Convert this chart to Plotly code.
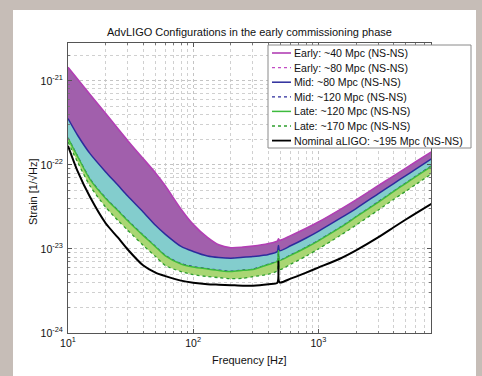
import plotly.graph_objects as go

# ---------------- data ----------------
freq = [10, 12, 15, 20, 25, 30, 40, 50, 60, 80, 100, 130, 160, 200, 250, 300, 400,
        470, 480, 490, 600, 800, 1000, 1500, 2000, 3000, 4000, 5000, 6000, 8000]

early40 = [1.45e-21, 1.04e-21, 6.89e-22, 4.08e-22, 2.70e-22, 1.94e-22, 1.18e-22, 8.02e-23,
           5.61e-23, 2.97e-23, 1.96e-23, 1.37e-23, 1.12e-23, 1.035e-23, 1.05e-23, 1.08e-23,
           1.16e-23, 1.24e-23, 1.32e-23, 1.27e-23, 1.44e-23, 1.76e-23, 2.09e-23, 2.96e-23,
           3.84e-23, 5.64e-23, 7.41e-23, 9.16e-23, 1.09e-22, 1.43e-22]

early80 = [3.56e-22, 2.22e-22, 1.36e-22, 8.24e-23, 5.75e-23, 4.26e-23, 2.74e-23, 1.91e-23,
           1.49e-23, 1.07e-23, 9.33e-24, 8.24e-24, 7.91e-24, 7.76e-24, 7.94e-24, 8.13e-24,
           8.61e-24, 9.33e-24, 1.10e-23, 9.55e-24, 1.09e-23, 1.35e-23, 1.62e-23, 2.32e-23,
           3.02e-23, 4.52e-23, 6.00e-23, 7.45e-23, 8.91e-23, 1.18e-22]

mid80 = [3.56e-22, 2.22e-22, 1.36e-22, 8.24e-23, 5.75e-23, 4.26e-23, 2.74e-23, 1.91e-23,
         1.49e-23, 1.07e-23, 9.33e-24, 8.24e-24, 7.91e-24, 7.76e-24, 7.94e-24, 8.13e-24,
         8.61e-24, 9.33e-24, 1.10e-23, 9.55e-24, 1.09e-23, 1.35e-23, 1.62e-23, 2.32e-23,
         3.02e-23, 4.52e-23, 6.00e-23, 7.45e-23, 8.91e-23, 1.18e-22]

mid120 = [2.10e-22, 1.25e-22, 6.79e-23, 4.03e-23, 2.89e-23, 2.19e-23, 1.45e-23, 1.07e-23,
          8.36e-24, 6.70e-24, 6.17e-24, 5.84e-24, 5.61e-24, 5.43e-24, 5.62e-24, 5.75e-24,
          6.61e-24, 7.24e-24, 9.86e-24, 7.41e-24, 8.47e-24, 1.05e-23, 1.26e-23, 1.82e-23,
          2.42e-23, 3.63e-23, 4.88e-23, 6.10e-23, 7.33e-23, 9.73e-23]

late120 = [2.08e-22, 1.24e-22, 6.72e-23, 3.99e-23, 2.86e-23, 2.17e-23, 1.44e-23, 1.06e-23,
           8.28e-24, 6.63e-24, 6.11e-24, 5.78e-24, 5.55e-24, 5.38e-24, 5.56e-24, 5.69e-24,
           6.54e-24, 7.17e-24, 9.60e-24, 7.33e-24, 8.39e-24, 1.04e-23, 1.25e-23, 1.80e-23,
           2.40e-23, 3.59e-23, 4.83e-23, 6.04e-23, 7.26e-23, 9.63e-23]

late170 = [1.88e-22, 1.06e-22, 5.61e-23, 3.14e-23, 2.19e-23, 1.67e-23, 1.10e-23, 8.13e-24,
           6.34e-24, 5.38e-24, 4.95e-24, 4.69e-24, 4.56e-24, 4.43e-24, 4.47e-24, 4.68e-24,
           5.01e-24, 5.53e-24, 8.59e-24, 5.69e-24, 6.58e-24, 8.22e-24, 1.00e-23, 1.45e-23,
           1.92e-23, 2.89e-23, 3.89e-23, 4.86e-23, 5.85e-23, 7.80e-23]

nominal = [1.69e-22, 8.24e-23, 4.14e-23, 2.02e-23, 1.37e-23, 9.86e-24, 6.34e-24, 5.23e-24,
           4.75e-24, 4.20e-24, 3.97e-24, 3.81e-24, 3.76e-24, 3.71e-24, 3.66e-24, 3.66e-24,
           3.81e-24, 3.95e-24, 7.08e-24, 4.00e-24, 4.43e-24, 5.23e-24, 6.00e-24, 7.69e-24,
           9.60e-24, 1.37e-23, 1.81e-23, 2.24e-23, 2.65e-23, 3.43e-23]

labels = ["Early: ~40 Mpc (NS-NS)", "Early: ~80 Mpc (NS-NS)", "Mid: ~80 Mpc (NS-NS)",
          "Mid: ~120 Mpc (NS-NS)", "Late: ~120 Mpc (NS-NS)", "Late: ~170 Mpc (NS-NS)",
          "Nominal aLIGO: ~195 Mpc (NS-NS)"]

x_tickvals = [10, 100, 1000]
x_ticktext = ["10<sup>1</sup>", "10<sup>2</sup>", "10<sup>3</sup>"]
y_tickvals = [1e-24, 1e-23, 1e-22, 1e-21]
y_ticktext = ["10<sup>-24</sup>", "10<sup>-23</sup>", "10<sup>-22</sup>", "10<sup>-21</sup>"]

title = "AdvLIGO Configurations in the early commissioning phase"
x_title = "Frequency [Hz]"
y_title = "Strain [1/\u221aHz]"

# ---------------- styles ----------------
FONT = "Liberation Sans, Arial, Helvetica, sans-serif"
PURPLE_FILL = "#a15fac"
CYAN_FILL = "#83cdcd"
GREEN_FILL = "#a9d673"
styles = [
    dict(color="#b23fb4", width=1.6, dash="solid"),   # early40
    dict(color="#c24cc4", width=1.2, dash="dot"),     # early80
    dict(color="#2c2c9c", width=1.5, dash="solid"),   # mid80
    dict(color="#2c2c9c", width=1.3, dash="dot"),     # mid120
    dict(color="#3dbb3d", width=1.5, dash="solid"),   # late120
    dict(color="#2e9e2e", width=1.3, dash="dot"),     # late170
    dict(color="#000000", width=2.0, dash="solid"),   # nominal
]
fills = [None, PURPLE_FILL, None, CYAN_FILL, None, GREEN_FILL, None]
series = [early40, early80, mid80, mid120, late120, late170, nominal]

fig = go.Figure()
for s, st, fc, lab in zip(series, styles, fills, labels):
    line = dict(st, shape="spline", smoothing=0.7)
    kw = dict(x=freq, y=s, mode="lines", line=line, name=lab, showlegend=False,
              hoverinfo="skip")
    if fc:
        kw.update(fill="tonexty", fillcolor=fc)
    fig.add_trace(go.Scatter(**kw))

# ---------------- layout ----------------
L, R, T, B = 68, 51, 43, 43
W, H = 482, 376
pw, ph = W - L - R, H - T - B

def px2paper(px, py):
    return (px - L) / pw, (H - B - py) / ph

shapes = []
annotations = []
# white panel
x0, y1 = px2paper(13, 10)
x1, y0 = px2paper(476, 377)
shapes.append(dict(type="rect", xref="paper", yref="paper", x0=x0, x1=x1, y0=y0, y1=y1,
                   fillcolor="white", line=dict(width=0), layer="below"))

# manual legend
bx0, by1 = px2paper(268, 45)
bx1, by0 = px2paper(471, 148)
shapes.append(dict(type="rect", xref="paper", yref="paper", x0=bx0, x1=bx1, y0=by0, y1=by1,
                   fillcolor="white", line=dict(color="#8a8a8a", width=1), layer="above"))
for i, (lab, st) in enumerate(zip(labels, styles)):
    py = 53 + 14.6 * i
    lx0, ly = px2paper(272, py)
    lx1, _ = px2paper(291, py)
    shapes.append(dict(type="line", xref="paper", yref="paper", x0=lx0, x1=lx1, y0=ly, y1=ly,
                       line=dict(color=st["color"], width=min(st["width"], 1.8), dash=st["dash"]),
                       layer="above"))
    tx, _ = px2paper(292, py)
    annotations.append(dict(text=lab, xref="paper", yref="paper", x=tx, y=ly, xanchor="left",
                            yanchor="middle", showarrow=False,
                            font=dict(family=FONT, size=10.6, color="#111")))

# axis titles
ax, ay = px2paper(249, 360)
annotations.append(dict(text=x_title, xref="paper", yref="paper", x=ax, y=ay, showarrow=False,
                        xanchor="center", yanchor="middle",
                        font=dict(family=FONT, size=11, color="#111")))
yx, yy = px2paper(33, 192)
annotations.append(dict(text=y_title, xref="paper", yref="paper", x=yx, y=yy, showarrow=False,
                        textangle=-90, xanchor="center", yanchor="middle",
                        font=dict(family=FONT, size=11, color="#111")))
tx, ty = px2paper(249, 32)
annotations.append(dict(text=title, xref="paper", yref="paper", x=tx, y=ty, showarrow=False,
                        xanchor="center", yanchor="middle",
                        font=dict(family=FONT, size=11, color="#111")))

grid = dict(gridcolor="#c4c4c4", griddash="dot", gridwidth=1)
fig.update_layout(
    width=W, height=H,
    margin=dict(l=L, r=R, t=T, b=B, pad=0),
    paper_bgcolor="#c6bdb7",
    plot_bgcolor="white",
    font=dict(family=FONT, size=10, color="#111"),
    showlegend=False,
    hovermode=False,
    shapes=shapes,
    annotations=annotations,
    xaxis=dict(type="log", range=[1, 3.9], tickmode="array", tickvals=x_tickvals,
               ticktext=x_ticktext, showgrid=True, **grid,
               ticks="inside", ticklen=4, tickcolor="#555", showline=True,
               linecolor="#555", linewidth=1, mirror="ticks", zeroline=False,
               minor=dict(dtick="D1", showgrid=True, gridcolor="#d0d0d0", griddash="dot",
                          ticks="inside", ticklen=2, tickcolor="#777"),
               tickfont=dict(size=10.5)),
    yaxis=dict(type="log", range=[-24, -20.55], tickmode="array", tickvals=y_tickvals,
               ticktext=y_ticktext, showgrid=True, **grid,
               ticks="inside", ticklen=4, tickcolor="#555", showline=True,
               linecolor="#555", linewidth=1, mirror="ticks", zeroline=False,
               minor=dict(dtick="D1", showgrid=True, gridcolor="#d0d0d0", griddash="dot",
                          ticks="inside", ticklen=2, tickcolor="#777"),
               tickfont=dict(size=10.5), ticklabelstandoff=2),
)

fig.write_html("out.html", config={"displayModeBar": False, "staticPlot": True},
               post_script="document.body.style.margin='0';document.body.style.padding='0';")
